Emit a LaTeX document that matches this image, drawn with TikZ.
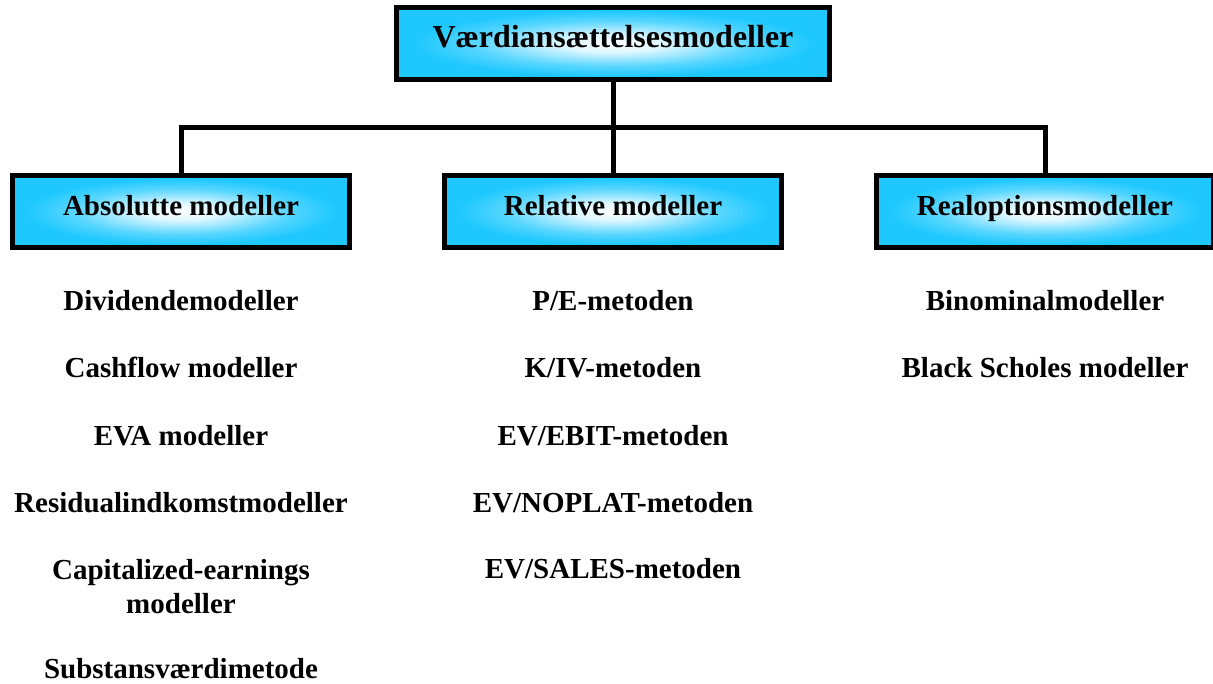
\documentclass[tikz,border=0pt]{standalone}
\usepackage{fontspec}
\setmainfont{Liberation Serif}
\usepackage{tikz}
\definecolor{boxcyan}{RGB}{30,200,255}
\pgfdeclareradialshading{boxglow}{\pgfpoint{0bp}{0bp}}{%
  color(0bp)=(white); color(6bp)=(white!85!boxcyan);
  color(16bp)=(white!25!boxcyan); color(23bp)=(boxcyan); color(50bp)=(boxcyan)}

\begin{document}
\begin{tikzpicture}
  [x=1pt,y=-1pt,
   every node/.style={font=\bfseries\fontsize{29}{34}\selectfont,align=center},
   modelbox/.style={draw=black,line width=5pt,shading=boxglow,
     minimum width=337pt,minimum height=72pt,text height=14pt,text depth=7pt},
   item/.style={anchor=base},
   link/.style={line width=5pt}]
  \useasboundingbox (0,0) rectangle (1213,683);

  \node (top) at (613,43.5) [modelbox,minimum width=433pt,
    font=\bfseries\fontsize{32}{36}\selectfont] {Værdiansættelsesmodeller};
  \node (abs)  at (181,211.5) [modelbox] {Absolutte modeller};
  \node (rel)  at (613,211.5) [modelbox] {Relative modeller};
  \node (real) at (1045,211.5) [modelbox] {Realoptionsmodeller};

  \coordinate (bus) at (613,127);
  \draw[link] (top) -- (bus);
  \draw[link] (abs.north) |- (bus) -| (real.north);
  \draw[link] (bus) -- (rel.north);

  % absolutte
  \node (a1) at (181,310) [item] {Dividendemodeller};
  \node (a2) at (181,377) [item] {Cashflow modeller};
  \node (a3) at (181,445) [item] {EVA modeller};
  \node (a4) at (181,512) [item] {Residualindkomstmodeller};
  \node (a5) at (181,613) [item] {Capitalized-earnings\\modeller};
  \node (a6) at (181,678) [item] {Substansværdimetode};

  % relative
  \node (r1) at (613,310) [item] {P/E-metoden};
  \node (r2) at (613,377) [item] {K/IV-metoden};
  \node (r3) at (613,445) [item] {EV/EBIT-metoden};
  \node (r4) at (613,512) [item] {EV/NOPLAT-metoden};
  \node (r5) at (613,578) [item] {EV/SALES-metoden};

  % realoptioner
  \node (o1) at (1045,310) [item] {Binominalmodeller};
  \node (o2) at (1045,377) [item] {Black Scholes modeller};
\end{tikzpicture}
\end{document}
